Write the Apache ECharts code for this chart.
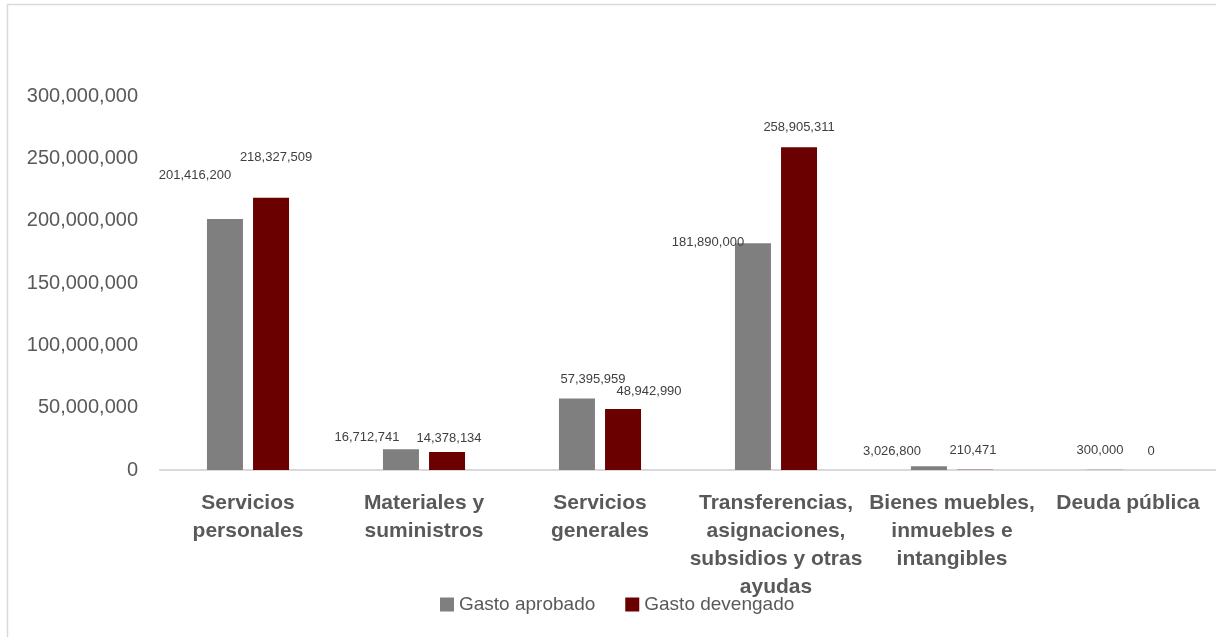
<!DOCTYPE html>
<html>
<head>
<meta charset="utf-8">
<script src="https://cdn.jsdelivr.net/npm/echarts@6/dist/echarts.min.js"></script>
<style>
    html, body { margin: 0; padding: 0; background: #fff; }
    #main-chart { width: 1216px; height: 637px; }
</style>
</head>
<body>
<div id="main-chart"></div>
<script>
var categories = [
    'Servicios\npersonales',
    'Materiales y\nsuministros',
    'Servicios\ngenerales',
    'Transferencias,\nasignaciones,\nsubsidios y otras\nayudas',
    'Bienes muebles,\ninmuebles e\nintangibles',
    'Deuda pública'
];
var gastoAprobado = [201416200, 16712741, 57395959, 181890000, 3026800, 300000];
var gastoDevengado = [218327509, 14378134, 48942990, 258905311, 210471, 0];
var yTicks = [0, 50000000, 100000000, 150000000, 200000000, 250000000, 300000000];

// label nudges (px) so the value labels sit where the original put them
var nudgeAprobado = [[-30, -43], [-34, -12], [16, -19], [-45, -1], [-37, -15], [-5, -19]];
var nudgeDevengado = [[5, -40], [2, -14], [26, -18], [0, -20], [-2, -19], [0, -19]];

var mainChart;

function fmt(v) {
    return Number(v).toLocaleString('en-US');
}

function buildData(values, nudges) {
    var out = [];
    for (var i = 0; i < values.length; i++) {
        out.push({
            value: values[i],
            label: { offset: nudges[i] }
        });
    }
    return out;
}

function chartInit() {
    mainChart = echarts.init(document.getElementById('main-chart'));

    var labelOpt = {
        show: true,
        position: ['50%', 0],
        align: 'center',
        verticalAlign: 'middle',
        fontFamily: 'Liberation Sans',
        fontSize: 13,
        color: '#404040',
        formatter: function (p) { return fmt(p.value); }
    };

    var mainOpt = {
        animation: false,
        textStyle: { fontFamily: 'Liberation Sans' },
        graphic: [{
            type: 'rect',
            shape: { x: 7.5, y: 4.5, width: 1240, height: 660 },
            style: { fill: 'none', stroke: '#d9d9d9', lineWidth: 1.5 },
            silent: true
        }],
        grid: {
            left: 160,
            top: 96,
            width: 1064,
            height: 374
        },
        legend: {
            left: 435,
            top: 590,
            itemWidth: 14,
            itemHeight: 14,
            itemGap: 30,
            icon: 'rect',
            textStyle: {
                fontFamily: 'Liberation Sans',
                fontSize: 19,
                color: '#595959'
            },
            data: ['Gasto aprobado', 'Gasto devengado']
        },
        xAxis: {
            type: 'category',
            data: categories,
            axisLine: { lineStyle: { color: '#d9d9d9', width: 2 } },
            axisTick: { show: false },
            axisLabel: {
                interval: 0,
                margin: 19,
                fontFamily: 'Liberation Sans',
                fontWeight: 'bold',
                fontSize: 21,
                lineHeight: 28,
                color: '#595959'
            }
        },
        yAxis: {
            type: 'value',
            min: 0,
            max: yTicks[yTicks.length - 1],
            interval: 50000000,
            axisLine: { show: false },
            axisTick: { show: false },
            splitLine: { show: false },
            axisLabel: {
                margin: 22,
                fontFamily: 'Liberation Sans',
                fontSize: 20,
                color: '#595959',
                formatter: function (v) { return fmt(v); }
            }
        },
        series: [{
            name: 'Gasto aprobado',
            type: 'bar',
            barWidth: 36,
            barGap: '28%',
            itemStyle: { color: '#7f7f7f' },
            label: labelOpt,
            data: buildData(gastoAprobado, nudgeAprobado)
        }, {
            name: 'Gasto devengado',
            type: 'bar',
            barWidth: 36,
            itemStyle: { color: '#6b0000' },
            label: labelOpt,
            data: buildData(gastoDevengado, nudgeDevengado)
        }]
    };

    mainChart.setOption(mainOpt);
}

window.onload = function () {
    chartInit();
};
</script>
</body>
</html>
